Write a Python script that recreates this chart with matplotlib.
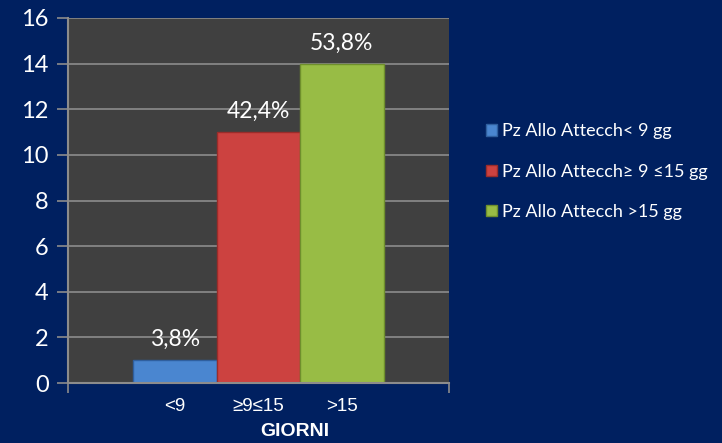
import numpy as np
import matplotlib.pyplot as plt
from matplotlib.ticker import FixedLocator

# =========================
# data
# =========================
categories = ["<9", "≥9≤15", ">15"]
values = [1, 11, 14]
pct_labels = ["3,8%", "42,4%", "53,8%"]
series_names = ["Pz Allo Attecch< 9 gg", "Pz Allo Attecch≥ 9 ≤15 gg", "Pz Allo Attecch >15 gg"]
y_ticks = [0, 2, 4, 6, 8, 10, 12, 14, 16]

BG = "#002060"
PLOT_BG = "#404040"
GRID = "#8c8c8c"
bar_colors = ["#4a86d0", "#cc4240", "#98bc45"]
edge_colors = ["#2f5f9f", "#9a2c2a", "#6f8f2c"]

# =========================
# figure
# =========================
fig = plt.figure(figsize=(7.22, 4.43), dpi=100, facecolor=BG)
ax = fig.add_axes([68 / 722, 1 - 383 / 443, (449 - 68) / 722, (383 - 18) / 443])
ax.set_facecolor(PLOT_BG)

x = np.arange(len(categories))
bars = []
for i in range(len(categories)):
    b = ax.bar(x[i], values[i], width=1.0, color=bar_colors[i],
               edgecolor=edge_colors[i], linewidth=1.0, zorder=3,
               label=series_names[i])
    bars.append(b)
    ax.text(x[i], values[i] + 0.45, pct_labels[i], ha="center", va="bottom",
            color="white", fontsize=16.5, family=["Lato", "DejaVu Sans"], zorder=4)

ax.set_xlim(-1.283, 3.283)
ax.set_ylim(0, 16)

ax.yaxis.set_major_locator(FixedLocator(y_ticks))
ax.grid(axis="y", color=GRID, linewidth=1.2, zorder=0)
ax.set_axisbelow(True)

ax.set_xticks(x)
ax.set_xticklabels(categories, color="white", fontsize=13.5, family="Liberation Sans")
ax.tick_params(axis="x", length=0, pad=11)
ax.xaxis.set_minor_locator(FixedLocator([-1.283, 3.283]))
ax.tick_params(axis="x", which="minor", length=7, width=1.2, color=GRID, direction="out")

ax.tick_params(axis="y", length=8, width=1.2, color=GRID, direction="out",
               labelcolor="white", labelsize=17, pad=6)
for lab in ax.get_yticklabels():
    lab.set_family(["Lato", "DejaVu Sans"])

for side in ["top", "right"]:
    ax.spines[side].set_visible(False)
for side in ["left", "bottom"]:
    ax.spines[side].set_color(GRID)
    ax.spines[side].set_linewidth(1.5)
ax.spines["bottom"].set_zorder(5)

fig.text(295 / 722, 1 - 432 / 443, "GIORNI", ha="center", va="center",
         color="white", fontsize=14, fontweight="bold", family="Liberation Sans")

leg = fig.legend(handles=[b[0] for b in bars], labels=series_names,
                 loc="upper left", bbox_to_anchor=(470 / 722, 1 - 107 / 443),
                 frameon=False, labelspacing=1.35,
                 handlelength=0.6, handleheight=0.6, handletextpad=0.3,
                 prop={"family": ["Lato", "DejaVu Sans"], "size": 13})
for t in leg.get_texts():
    t.set_color("white")

fig.savefig("out.png", dpi=100, facecolor=BG)
